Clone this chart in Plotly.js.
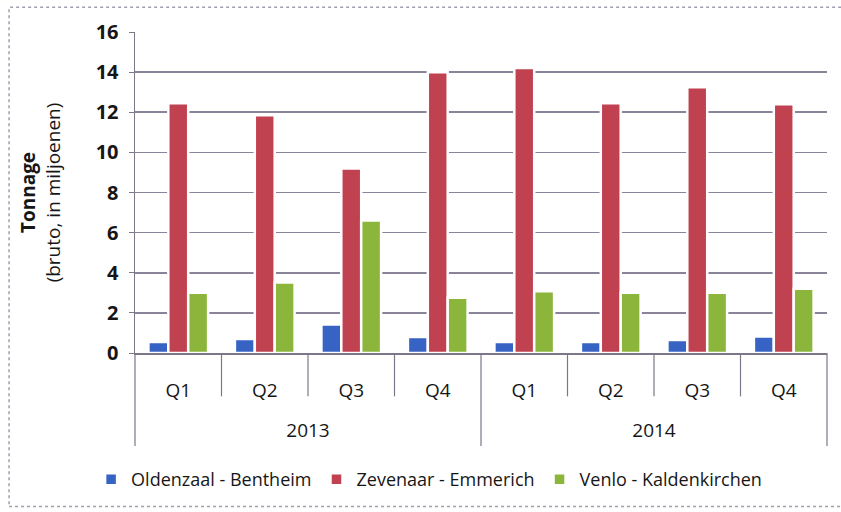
<!DOCTYPE html>
<html>
<head>
<meta charset="utf-8">
<script src="https://cdn.plot.ly/plotly-3.0.1.min.js"></script>
<style>html,body{margin:0;padding:0;background:#fff;}#chart{width:841px;height:512px;}</style>
</head>
<body>
<div id="chart"></div>
<script>
const years = ["2013","2013","2013","2013","2014","2014","2014","2014"];
const quarters = ["Q1","Q2","Q3","Q4","Q1","Q2","Q3","Q4"];
const seriesNames = ["Oldenzaal - Bentheim","Zevenaar - Emmerich","Venlo - Kaldenkirchen"];
const oldenzaal = [0.55, 0.70, 1.42, 0.80, 0.55, 0.55, 0.65, 0.82];
const zevenaar = [12.45, 11.85, 9.2, 14.0, 14.2, 12.45, 13.25, 12.4];
const venlo = [3.0, 3.52, 6.6, 2.75, 3.08, 3.0, 3.0, 3.2];
const yTicks = [0,2,4,6,8,10,12,14,16];
const colors = ["#3763c4","#c0414f","#8cb53b"];

const FONT = "'Open Sans', 'Noto Sans', sans-serif";
const TXT = "#161616";
const categories = years.map((y,i)=> y + " " + quarters[i]);
// year group centres on the category index scale
const yearNames = [...new Set(years)];
const yearPos = yearNames.map(yr => {
  const idx = years.map((y,i)=> y===yr ? i : null).filter(v=>v!==null);
  return (idx[0] + idx[idx.length-1]) / 2;
});

const vals = [oldenzaal, zevenaar, venlo];
const traces = vals.map((v,i)=>({
  type:"bar",
  name: seriesNames[i],
  x: categories,
  y: v,
  marker:{color:colors[i], line:{color:"#ffffff", width:2.5}},
  hoverinfo:"y"
}));
// carrier for the year-level axis (invisible)
traces.push({type:"scatter", x: yearPos, y: yearPos.map(()=>0), xaxis:"x2", yaxis:"y",
  mode:"markers", marker:{opacity:0, size:1}, showlegend:false, hoverinfo:"skip"});

// separator lines below the category axis (paper coords)
const shapes = [];
for (let i=0;i<=quarters.length;i++){
  const isYear = (i===0 || i===quarters.length || years[i]!==years[i-1]);
  shapes.push({type:"line", xref:"paper", yref:"paper", x0:i/quarters.length, x1:i/quarters.length,
    y0:0, y1: isYear ? -0.29 : -0.135, line:{color:"#7d7789", width:1.2}});
}
// outer chart border
shapes.push({type:"rect", xref:"paper", yref:"paper", x0:-0.182, x1:1.06, y0:-0.478, y1:1.077,
  line:{color:"#a29cb0", width:1.5, dash:"dot"}, fillcolor:"rgba(0,0,0,0)", layer:"below"});

const layout = {
  width:841, height:512,
  margin:{l:135, r:14, t:32, b:159},
  paper_bgcolor:"#ffffff", plot_bgcolor:"#ffffff",
  font:{family:FONT, color:TXT, size:19},
  barmode:"group", bargap:0.31, bargroupgap:0,
  showlegend:true,
  legend:{orientation:"h", x:0.425, xanchor:"center", y:-0.394, yanchor:"middle",
    font:{family:FONT, size:18, color:TXT}, traceorder:"normal"},
  xaxis:{type:"category", tickvals:categories, ticktext:quarters, showline:true,
    linecolor:"#7d7789", linewidth:1.5, ticks:"", tickfont:{family:FONT, size:19, color:TXT},
    ticklabelstandoff:20, showgrid:false, range:[-0.5, quarters.length-0.5]},
  xaxis2:{overlaying:"x", anchor:"y", side:"bottom", type:"linear",
    range:[-0.5, quarters.length-0.5], tickvals:yearPos, ticktext:yearNames,
    showline:false, showgrid:false, zeroline:false, ticks:"",
    tickfont:{family:FONT, size:19, color:TXT}, ticklabelstandoff:64},
  yaxis:{range:[0,16], tickvals:yTicks, ticktext:yTicks.map(String), showline:true,
    linecolor:"#7d7789", linewidth:1.5, ticks:"outside", ticklen:5, tickcolor:"#7d7789",
    showgrid:true, gridcolor:"#8a8399", gridwidth:1.6, zeroline:false, ticklabelstandoff:6,
    tickfont:{family:FONT, size:20, color:TXT, weight:"bold"},
    title:{text:"<b>Tonnage</b><br>(bruto, in miljoenen)", font:{family:FONT, size:19, color:TXT}, standoff:30}},
  shapes: shapes
};
Plotly.newPlot("chart", traces, layout, {displayModeBar:false, staticPlot:true});
</script>
</body>
</html>
